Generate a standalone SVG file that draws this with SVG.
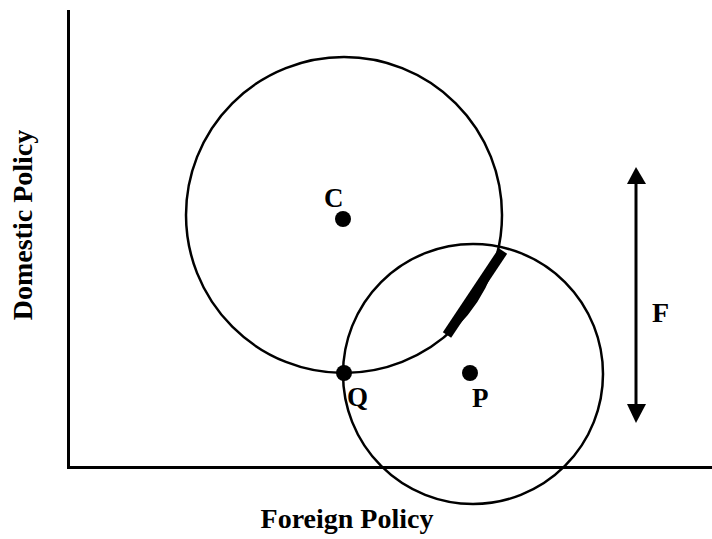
<svg xmlns="http://www.w3.org/2000/svg" width="712" height="539" viewBox="0 0 712 539">
<style>
.ln{fill:none;stroke:#000;stroke-width:2.5}
.ax{fill:none;stroke:#000;stroke-width:3}
.dot{fill:#000}
.t{font-family:"Liberation Serif","Times New Roman",serif;font-weight:bold;fill:#000}
</style>
<rect width="712" height="539" fill="#fff"/>
<g id="axes">
<path class="ax" d="M68.5,10 V467.5 H712"/>
<text class="t" font-size="28" x="347" y="528" text-anchor="middle">Foreign Policy</text>
<text class="t" font-size="28" transform="translate(32,225) rotate(-90)" text-anchor="middle">Domestic Policy</text>
</g>
<g id="circle-C">
<circle class="ln" cx="344" cy="215" r="158"/>
<circle class="dot" cx="343" cy="219" r="8"/>
<text class="t" font-size="27" x="324" y="207">C</text>
</g>
<g id="circle-P">
<circle class="ln" cx="473" cy="374" r="130"/>
<circle class="dot" cx="470" cy="373" r="8"/>
<text class="t" font-size="27" x="472" y="407">P</text>
</g>
<g id="point-Q">
<circle class="dot" cx="344" cy="373" r="8"/>
<text class="t" font-size="27" x="347" y="406">Q</text>
</g>
<g id="connectors">
<line x1="447" y1="335" x2="503" y2="251" stroke="#000" stroke-width="10"/>
<line x1="636" y1="180" x2="636" y2="410" stroke="#000" stroke-width="3"/>
<polygon points="636,167 627,184 646,184" fill="#000"/>
<polygon points="636,423 627,404 646,404" fill="#000"/>
</g>
<g id="label-F">
<text class="t" font-size="28" x="652" y="322">F</text>
</g>
</svg>
